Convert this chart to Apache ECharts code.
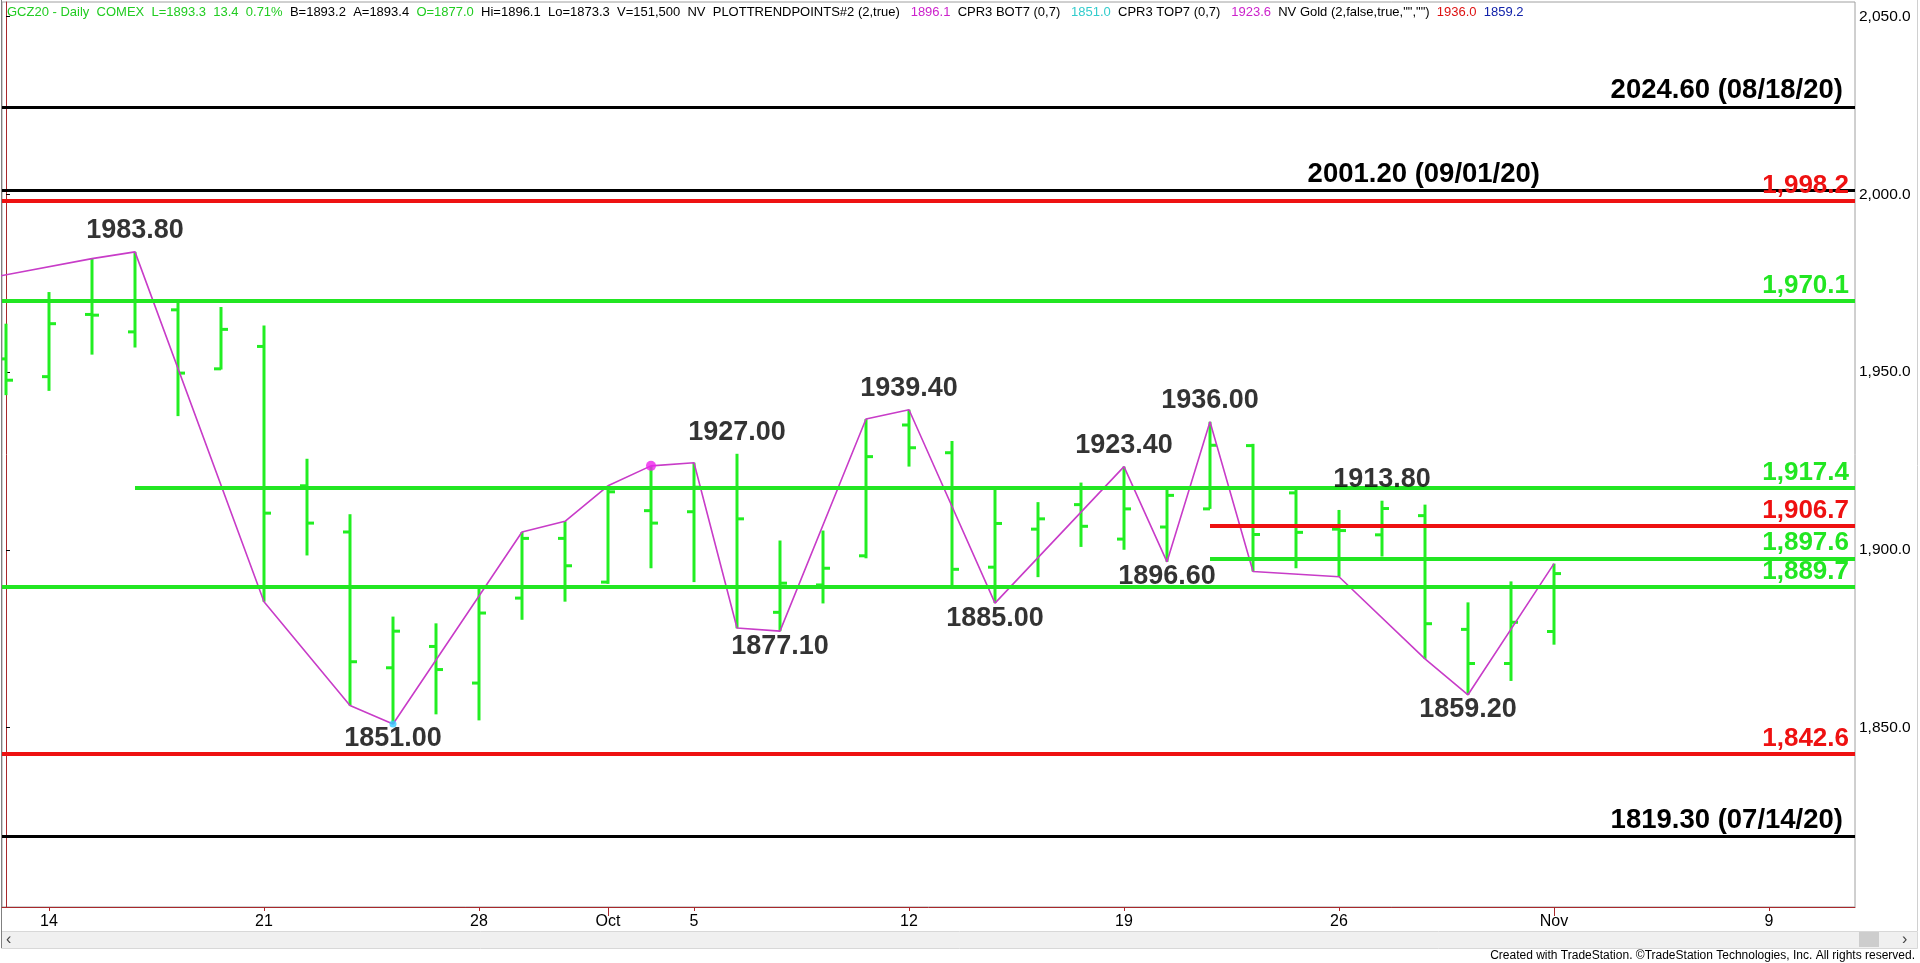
<!DOCTYPE html>
<html><head><meta charset="utf-8">
<script src="https://cdn.jsdelivr.net/npm/echarts@6/dist/echarts.min.js"></script>
<style>html,body{margin:0;padding:0;background:#fff;overflow:hidden}#c{width:1920px;height:963px}</style>
</head><body><div id="c"></div>
<script>
// ---- data ----
const dates = ['Sep 11','Sep 14','Sep 15','Sep 16','Sep 17','Sep 18','Sep 21','Sep 22','Sep 23','Sep 24','Sep 25',
  'Sep 28','Sep 29','Sep 30','Oct 1','Oct 2','Oct 5','Oct 6','Oct 7','Oct 8','Oct 9','Oct 12','Oct 13','Oct 14',
  'Oct 15','Oct 16','Oct 19','Oct 20','Oct 21','Oct 22','Oct 23','Oct 26','Oct 27','Oct 28','Oct 29','Oct 30','Nov 2'];
const opens  = [1953.7,1948.7,1966.2,1961.3,1967.5,1950.9,1957.2,1918.0,1905.0,1866.8,1872.8,1862.5,1886.4,1903.2,1890.9,1911.0,1910.7,1917.5,1882.4,1890.1,1898.3,1935.1,1927.3,1895.1,1905.8,1912.7,1903.0,1906.4,1911.5,1929.3,1916.0,1905.8,1904.2,1909.6,1877.6,1868.0,1877.0];
const highs  = [1963.6,1972.5,1981.9,1983.8,1969.8,1968.3,1963.1,1925.6,1910.0,1881.2,1879.3,1890.0,1905.0,1908.0,1918.0,1923.6,1924.5,1927.0,1902.6,1905.4,1936.8,1939.4,1930.6,1917.0,1913.4,1918.9,1923.4,1917.9,1936.0,1929.8,1917.2,1911.2,1913.8,1912.7,1885.2,1891.1,1896.1];
const lows   = [1943.5,1944.7,1954.9,1956.9,1937.6,1950.7,1885.4,1898.4,1856.2,1851.0,1853.7,1852.0,1880.3,1885.4,1890.4,1894.8,1890.9,1877.9,1877.1,1884.9,1897.6,1923.4,1889.2,1885.0,1892.3,1900.8,1900.0,1896.6,1911.5,1893.9,1894.8,1892.4,1898.1,1869.3,1859.2,1863.1,1873.3];
const closes = [1947.7,1963.6,1966.0,1970.0,1949.7,1962.0,1910.3,1907.5,1868.5,1877.1,1866.3,1882.2,1903.2,1895.5,1916.3,1907.5,1917.6,1908.7,1890.6,1894.8,1926.2,1928.7,1894.5,1907.4,1908.7,1906.6,1911.5,1915.3,1929.4,1904.3,1904.9,1905.4,1911.6,1879.2,1868.0,1879.6,1893.3];

const trendIdx  = [-1, 2, 3, 6, 8, 9, 12, 13, 14, 15, 16, 17, 18, 20, 21, 23, 26, 27, 28, 29, 31, 33, 34, 36];
const trendVals = [1975.1,1981.9,1983.8,1885.4,1856.2,1851.0,1905.0,1908.0,1918.0,1923.6,1924.5,1878.0,1877.1,1936.8,1939.4,1885.0,1923.4,1896.6,1936.0,1893.9,1892.4,1869.3,1859.2,1896.1];

const swingHighIdx  = [3, 17, 21, 26, 28, 32];
const swingHighVals = [1983.8, 1927.0, 1939.4, 1923.4, 1936.0, 1913.8];
const swingLowIdx   = [9, 18, 23, 27, 34];
const swingLowVals  = [1851.0, 1877.1, 1885.0, 1896.6, 1859.2];

const levelValues = [2024.6, 2001.2, 1998.2, 1970.1, 1917.4, 1906.7, 1897.6, 1889.7, 1842.6, 1819.3];
const levelLabels = ['2024.60 (08/18/20)', '2001.20 (09/01/20)', '1,998.2', '1,970.1', '1,917.4', '1,906.7', '1,897.6', '1,889.7', '1,842.6', '1819.30 (07/14/20)'];
const levelKinds  = ['black', 'black', 'red', 'green', 'green', 'red', 'green', 'green', 'red', 'black'];
const levelStartIdx = [null, null, null, null, 3, 28, 28, null, null, null];

const topDot = [15, 1923.6];
const botDot = [9, 1851.0];
const lastPrice = 1893.3;

const xTickIdx    = [1, 6, 11, 14, 16, 21, 26, 31, 36, 41];
const xTickLabels = ['14', '21', '28', 'Oct', '5', '12', '19', '26', 'Nov', '9'];
const yTicks = [1850, 1900, 1950, 2000, 2050];

// ---- layout / style ----
const X_MIN = -0.093, X_MAX = 43.0;
const Y_MIN = 1799.5, Y_MAX = 2054.1;
const GREEN = '#22ee22', RED = '#ee1111', MAG = '#c83cc8', AXIS = '#a8282c';
const kindColor = {black: '#000000', red: RED, green: '#22e622'};
const kindWidth = {black: 3, red: 4, green: 4};
const kindFont  = {black: 27.5, red: 26, green: 26};
const kindDx    = {black: 12, red: 6, green: 6};
const FONT = "'Liberation Sans', Arial, sans-serif";
const monthTickIdx = xTickIdx.filter((v, i) => isNaN(Number(xTickLabels[i])));

const levelMarks = levelValues.map((v, i) => {
  const k = levelKinds[i];
  const lineStyle = {color: kindColor[k], width: kindWidth[k], type: 'solid'};
  const label = {
    show: true, position: 'insideEndTop', formatter: levelLabels[i],
    color: kindColor[k], fontFamily: FONT, fontWeight: 'bold', fontSize: kindFont[k],
    distance: [i === 1 ? 315 : kindDx[k], 2]
  };
  if (levelStartIdx[i] === null) return {yAxis: v, lineStyle, label};
  return [{coord: [levelStartIdx[i], v], lineStyle, label}, {coord: [X_MAX, v]}];
});
levelMarks.push({
  yAxis: lastPrice, lineStyle: {width: 0, opacity: 0},
  label: {show: true, position: 'end', distance: 3, formatter: lastPrice.toLocaleString('en-US', {minimumFractionDigits: 1}),
    backgroundColor: GREEN, color: '#ffffff', fontFamily: FONT, fontSize: 12, padding: [2, 6, 1, 6]}
});

const chart = echarts.init(document.getElementById('c'), null, {renderer: 'canvas'});
chart.setOption({
  animation: false,
  backgroundColor: '#ffffff',
  title: {
    left: 2, top: 1,
    text: '{g|GCZ20 - Daily  COMEX  L=1893.3  13.4  0.71%}  {k|B=1893.2  A=1893.4}  {g|O=1877.0}  {k|Hi=1896.1  Lo=1873.3  V=151,500  NV  PLOTTRENDPOINTS#2 (2,true)}   {m|1896.1}  {k|CPR3 BOT7 (0,7)}   {c|1851.0}  {k|CPR3 TOP7 (0,7)}   {m|1923.6}  {k|NV Gold (2,false,true,"","")}  {r|1936.0}  {b|1859.2}',
    textStyle: {
      fontSize: 13, fontFamily: FONT, fontWeight: 'normal', color: '#000',
      rich: {
        g: {color: '#22cc22', fontSize: 13, fontFamily: FONT},
        k: {color: '#000000', fontSize: 13, fontFamily: FONT},
        m: {color: '#cc22cc', fontSize: 13, fontFamily: FONT},
        c: {color: '#33cccc', fontSize: 13, fontFamily: FONT},
        r: {color: '#dd1111', fontSize: 13, fontFamily: FONT},
        b: {color: '#1122aa', fontSize: 13, fontFamily: FONT}
      }
    }
  },
  grid: {left: 2, right: 65, top: 2, bottom: 56, show: true, borderColor: '#a0a0a0', borderWidth: 1},
  xAxis: [{
    type: 'value', min: X_MIN, max: X_MAX,
    axisLine: {show: true, lineStyle: {color: AXIS, width: 1}},
    axisTick: {show: true, customValues: xTickIdx, length: 4, lineStyle: {color: AXIS}},
    axisLabel: {show: true, customValues: xTickIdx, margin: 7, color: '#000', fontSize: 16, fontFamily: FONT,
      formatter: v => xTickLabels[xTickIdx.indexOf(Math.round(v))] || ''},
    splitLine: {show: false}
  }, {
    type: 'value', min: X_MIN, max: X_MAX, position: 'bottom',
    axisLine: {show: false},
    axisTick: {show: true, customValues: monthTickIdx, length: 9, lineStyle: {color: AXIS}},
    axisLabel: {show: false},
    splitLine: {show: false}
  }],
  yAxis: {
    type: 'value', position: 'right', min: Y_MIN, max: Y_MAX,
    axisLine: {show: true, lineStyle: {color: AXIS, width: 1}},
    axisTick: {show: true, customValues: yTicks, length: 4, lineStyle: {color: '#000'}},
    axisLabel: {show: true, customValues: yTicks, margin: 4, color: '#000', fontSize: 15.5, fontFamily: FONT,
      formatter: v => v.toLocaleString('en-US', {minimumFractionDigits: 1, maximumFractionDigits: 1})},
    splitLine: {show: false}
  },
  series: [
    {
      name: 'OHLC', type: 'custom', z: 2, clip: true,
      data: dates.map((d, i) => [i, opens[i], highs[i], lows[i], closes[i]]),
      encode: {x: 0, y: [1, 2, 3, 4]},
      renderItem: (params, api) => {
        const x = api.value(0);
        const pO = api.coord([x, api.value(1)]);
        const pH = api.coord([x, api.value(2)]);
        const pL = api.coord([x, api.value(3)]);
        const pC = api.coord([x, api.value(4)]);
        const t = 7, st = {stroke: GREEN, lineWidth: 3};
        return {type: 'group', children: [
          {type: 'line', shape: {x1: pH[0], y1: pH[1], x2: pL[0], y2: pL[1]}, style: st},
          {type: 'line', shape: {x1: pO[0] - t, y1: pO[1], x2: pO[0], y2: pO[1]}, style: st},
          {type: 'line', shape: {x1: pC[0], y1: pC[1], x2: pC[0] + t, y2: pC[1]}, style: st}
        ]};
      }
    },
    {
      name: 'levels', type: 'line', z: 3, symbol: 'none',
      data: [[36, lastPrice]], lineStyle: {width: 0},
      markLine: {silent: true, symbol: ['none', 'none'], animation: false, data: levelMarks}
    },
    {
      name: 'trend', type: 'line', z: 4, symbol: 'none', clip: true,
      data: trendIdx.map((x, i) => [x, trendVals[i]]),
      lineStyle: {color: MAG, width: 1.6}
    },
    {
      name: 'top', type: 'scatter', z: 5, symbol: 'circle', symbolSize: 10,
      data: [topDot], itemStyle: {color: '#ee22ee'}
    },
    {
      name: 'bot', type: 'scatter', z: 5, symbol: 'circle', symbolSize: 7,
      data: [botDot], itemStyle: {color: '#33ccff'}
    },
    {
      name: 'swingHigh', type: 'scatter', z: 6, symbolSize: 1, itemStyle: {color: 'rgba(0,0,0,0)'},
      data: swingHighIdx.map((x, i) => [x, swingHighVals[i]]),
      label: {show: true, position: 'top', distance: 7, color: '#000', fontFamily: FONT, fontWeight: 'bold', fontSize: 27,
        formatter: p => p.value[1].toFixed(2)}
    },
    {
      name: 'swingLow', type: 'scatter', z: 6, symbolSize: 1, itemStyle: {color: 'rgba(0,0,0,0)'},
      data: swingLowIdx.map((x, i) => [x, swingLowVals[i]]),
      label: {show: true, position: 'bottom', distance: 1, color: '#000', fontFamily: FONT, fontWeight: 'bold', fontSize: 27,
        formatter: p => p.value[1].toFixed(2)}
    }
  ],
  graphic: [
    {type: 'rect', left: 1, top: 931, shape: {width: 1916, height: 17}, style: {fill: '#f0f0f0', stroke: '#d8d8d8', lineWidth: 1}, silent: true},
    {type: 'rect', left: 1859, top: 932, shape: {width: 20, height: 15}, style: {fill: '#cdcdcd'}, silent: true},
    {type: 'text', left: 6, top: 932, style: {text: '‹', fontSize: 16, fill: '#444', fontFamily: FONT}},
    {type: 'text', left: 1902, top: 932, style: {text: '›', fontSize: 16, fill: '#444', fontFamily: FONT}},
    {type: 'line', shape: {x1: 1.5, y1: 0, x2: 1.5, y2: 948}, style: {stroke: '#808080', lineWidth: 1}, silent: true},
    {type: 'line', shape: {x1: 1917.5, y1: 0, x2: 1917.5, y2: 931}, style: {stroke: '#d0d0d0', lineWidth: 1}, silent: true},
    {type: 'text', right: 5, top: 950, style: {text: 'Created with TradeStation. ©TradeStation Technologies, Inc. All rights reserved.', fontSize: 12, fill: '#000', fontFamily: FONT}}
  ]
});
</script></body></html>
